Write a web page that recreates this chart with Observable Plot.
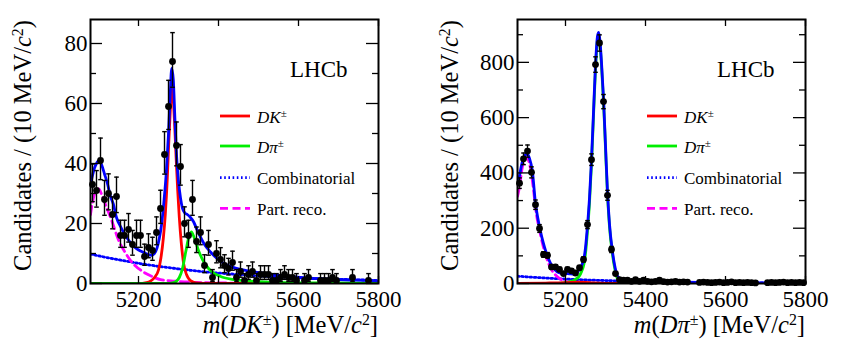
<!DOCTYPE html>
<html><head><meta charset="utf-8">
<script src="https://cdn.jsdelivr.net/npm/d3@7"></script>
<script src="https://cdn.jsdelivr.net/npm/@observablehq/plot@0.6"></script>
<style>
body{margin:0;background:#fff;}
#wrap{display:flex;width:854px;height:345px;overflow:hidden;}
.panel{position:relative;width:427px;height:345px;}
</style></head><body><div id="wrap"><div class="panel" id="p1"></div><div class="panel" id="p2"></div></div>
<script>
// ---------------- shared axis ticks ----------------
const xDomain = [5080, 5800];
const xMajor = [5200, 5400, 5600, 5800];

// ---------------- left panel: m(DK±) ----------------
const dkYMax = 88;
const dkYMajor = [0, 20, 40, 60, 80];
const dkYMinor = [10, 30, 50, 70];
const dkMass = [5085,5095,5105,5115,5125,5135,5145,5155,5165,5175,5185,5195,5205,5215,5225,5235,5245,5255,5265,5275,5285,5295,5305,5315,5325,5335,5345,5355,5365,5375,5385,5395,5405,5415,5425,5435,5445,5455,5465,5475,5485,5495,5505,5515,5525,5535,5545,5555,5565,5575,5585,5595,5615,5625,5655,5665,5675,5685,5695,5735,5775];
const dkCounts = [33,31,41,28,30,23,29,16,16,18,13,16,16,9,12,11,17,25,43,59,74,46,39,20,16,28,14,17,6,13,2,10,8,6,5,7,2,4,1,3,4,1,3,3,3,1,1,2,3,2,2,1,1,2,1,1,1,2,1,2,1];
const dkErrLo = [5.72,5.54,6.38,5.26,5.45,4.77,5.36,3.95,3.95,4.20,3.56,3.95,3.95,2.94,3.41,3.27,4.08,4.97,6.54,7.66,8.58,6.77,6.22,4.44,3.95,5.26,3.69,4.08,2.38,3.56,1.29,3.11,2.77,2.38,2.16,2.58,1.29,1.91,0.83,1.63,1.91,0.83,1.63,1.63,1.63,0.83,0.83,1.29,1.63,1.29,1.29,0.83,0.83,1.29,0.83,0.83,0.83,1.29,0.83,1.29,0.83];
const dkErrHi = [6.82,6.64,7.47,6.36,6.55,5.87,6.46,5.08,5.08,5.32,4.69,5.08,5.08,4.11,4.56,4.41,5.20,6.08,7.62,8.72,9.63,7.84,7.31,5.55,5.08,6.36,4.83,5.20,3.58,4.69,2.64,4.26,3.95,3.58,3.38,3.77,2.64,3.16,2.30,2.92,3.16,2.30,2.92,2.92,2.92,2.30,2.30,2.64,2.92,2.64,2.64,2.30,2.30,2.64,2.30,2.30,2.30,2.64,2.30,2.64,2.30];
// fit curves (sampled from the figure)
const dkTotalM = [5080,5085,5090,5095,5102,5108,5115,5122,5130,5137,5145,5155,5165,5175,5185,5195,5205,5215,5225,5233,5240,5246,5252,5258,5264,5270,5275,5279,5283,5287,5291,5295,5300,5305,5310,5316,5322,5330,5338,5346,5355,5365,5380,5395,5413,5437,5470,5520,5560,5605,5650,5700,5750,5800];
const dkTotalV = [33,36,38.5,40,41,39.5,36.5,33.5,29,26.5,22,19,16.5,14.5,12.8,11.6,10.8,10.2,9.6,9.4,10,11.7,15,20,28,38,50,62,71.7,68,55,43,34,28.5,25,23.5,23,22,20.5,18,15.5,13,10.5,8.5,6.7,5.4,4.3,3.3,2.6,2.0,1.6,1.3,1.1,0.9];
const dkSigM = [5080,5200,5220,5230,5240,5250,5256,5262,5267,5272,5276,5280,5283,5286,5290,5294,5298,5302,5307,5313,5320,5328,5336,5350,5380,5800];
const dkSigV = [0,0,0.3,0.8,2,4.5,8.5,15,23,35,48,59,65,63,54,42,31,22,13.5,6.5,3,1.2,0.5,0.1,0,0];
const dkMisM = [5080,5270,5285,5295,5302,5310,5318,5325,5332,5340,5350,5360,5375,5390,5410,5440,5480,5550,5650,5800];
const dkMisV = [0,0,0.2,0.8,2,5,10.5,15,17.2,15,11,8,5,3.3,2.1,1.3,0.8,0.4,0.2,0.1];
const dkCombM = [5080,5130,5180,5230,5280,5330,5380,5430,5480,5530,5580,5630,5680,5730,5800];
const dkCombV = [9.8,8.4,7.2,6.1,5.2,4.4,3.7,3.2,2.7,2.3,2.0,1.7,1.5,1.3,1.0];
const dkPartM = [5080,5085,5092,5100,5110,5117,5133,5150,5167,5183,5208,5233,5255,5290,5340,5400,5500,5800];
const dkPartV = [23,27,30.5,31.5,29,26.5,21,14.5,10.3,7.2,4.2,2.4,1.3,0.8,0.4,0.2,0.1,0];

// ---------------- right panel: m(Dπ±) ----------------
const dpiYMax = 955;
const dpiYMajor = [0, 200, 400, 600, 800];
const dpiYMinor = [100, 300, 500, 700, 900];
const dpiMass = [5085,5095,5105,5115,5125,5135,5145,5155,5165,5175,5185,5195,5205,5215,5225,5235,5245,5255,5265,5275,5285,5295,5305,5315,5325,5335,5345,5355,5365,5375,5385,5395,5405,5415,5425,5435,5445,5455,5465,5475,5485,5495,5505,5535,5545,5555,5565,5575,5585,5595,5605,5615,5625,5635,5645,5655,5665,5675,5705,5715,5725,5735,5745,5755,5765,5775,5785,5795];
const dpiCounts = [363,451,479,402,285,199,105,102,60,60,51,36,51,46,38,57,87,213,448,792,870,658,319,123,36,14,12,12,8,14,8,12,8,6,8,12,7,5,6,8,5,6,5,4,5,4,3,4,5,3,4,6,3,4,3,4,3,2,3,4,3,4,5,3,4,3,4,3];
const dpiErr = [19,21,22,20,17,14,10,10,7.7,7.7,7.1,6,7.1,6.8,6.2,7.5,9.3,14.6,21,28,29.5,25.7,17.9,11.1,6,3.7,3.5,3.5,2.8,3.7,2.8,3.5,2.8,2.4,2.8,3.5,2.6,2.2,2.4,2.8,2.2,2.4,2.2,2,2.2,2,1.7,2,2.2,1.7,2,2.4,1.7,2,1.7,2,1.7,1.4,1.7,2,1.7,2,2.2,1.7,2,1.7,2,1.7];
const dpiTotalM = [5080,5085,5092,5100,5105,5110,5117,5125,5131,5137,5144,5150,5156,5163,5170,5179,5190,5200,5210,5221,5228,5233,5240,5246,5250,5255,5260,5265,5270,5275,5280,5283,5286,5290,5295,5300,5305,5310,5317,5323,5329,5337,5346,5370,5400,5450,5500,5600,5700,5800];
const dpiTotalV = [355,390,440,466,468,452,409,289,235,192,150,120,95,72,56,42,37,36,35,34,38,48,65,90,130,210,310,448,620,790,895,908,880,800,670,500,330,215,120,65,30,17,12,9,7,5.5,4.5,3,2.2,1.5];
const dpiSigM = [5080,5180,5200,5215,5225,5235,5240,5246,5250,5255,5260,5265,5270,5275,5280,5283,5286,5290,5295,5300,5305,5310,5317,5323,5329,5337,5346,5370,5400,5500,5800];
const dpiSigV = [0,0.5,3,8,15,28,43,70,108,190,292,432,605,776,882,895,868,789,659,489,320,205,110,55,20,7.5,3,1,0.5,0.1,0];
const dpiMisM = [5080,5150,5200,5230,5250,5270,5300,5350,5800];
const dpiMisV = [0.5,1.5,3,5,4,2,0.5,0.1,0];
const dpiCombM = [5080,5130,5180,5230,5280,5330,5380,5430,5480,5530,5580,5630,5680,5730,5800];
const dpiCombV = [26.5,21.5,17.4,14.1,11.5,9.3,7.5,6.1,5,4,3.3,2.7,2.2,1.8,1.3];
const dpiPartM = [5080,5085,5092,5100,5105,5112,5120,5125,5137,5150,5162,5179,5200,5221,5250,5300,5400,5800];
const dpiPartV = [315,350,420,455,452,420,340,275,180,105,58,25,8,2,0.5,0.1,0,0];

const RED = "#ff0000", GREEN = "#00ee00", BLUE = "#0000ff", MAGENTA = "#ff00ff";
const DOTS = "1.6,2.6", DASHES = "8,4.5";

const legendItems = [
  {color:RED, dash:null, parts:[{t:"DK",i:true},{t:"±",sup:true}]},
  {color:GREEN, dash:null, parts:[{t:"D\u03C0",i:true},{t:"±",sup:true}]},
  {color:BLUE, dash:DOTS, parts:[{t:"Combinatorial"}]},
  {color:MAGENTA, dash:DASHES, parts:[{t:"Part. reco."}]}
];

const SERIF = "'Liberation Serif','Times New Roman',Times,'DejaVu Serif',serif";

function addRich(sel, parts){
  parts.forEach(p=>{
    const ts = sel.append("tspan").text(p.t);
    if(p.i) ts.attr("font-style","italic");
    if(p.sup) ts.attr("font-size","65%").attr("baseline-shift","super");
  });
  return sel;
}

function drawPanel(el, cfg){
  const W=427,H=345,ML=90,MR=49,MT=19,MB=62;
  const FW=W-ML-MR, FH=H-MT-MB;
  const pts = cfg.mass.map((m,i)=>({m, n:cfg.counts[i], lo:cfg.errLo[i], hi:cfg.errHi[i]}));
  const ln = (M,V)=>M.map((m,i)=>({m, v:V[i]}));
  const capSym = {draw(ctx,size){const r=Math.sqrt(size/Math.PI); ctx.moveTo(-r,0); ctx.lineTo(r,0);}};
  const lw = 2.8;
  const plot = Plot.plot({
    width:W, height:H, marginLeft:ML, marginRight:MR, marginTop:MT, marginBottom:MB,
    x:{domain:xDomain}, y:{domain:[0,cfg.ymax]},
    style:{fontFamily:SERIF, fontSize:"23px", background:"white", color:"black", overflow:"visible"},
    marks:[
      Plot.line(ln(cfg.combM,cfg.combV), {x:"m",y:"v",stroke:BLUE,strokeWidth:lw,strokeDasharray:DOTS,curve:"monotone-x",clip:true}),
      Plot.line(ln(cfg.partM,cfg.partV), {x:"m",y:"v",stroke:MAGENTA,strokeWidth:lw,strokeDasharray:DASHES,curve:"monotone-x",clip:true}),
      Plot.line(ln(cfg.firstM,cfg.firstV), {x:"m",y:"v",stroke:cfg.firstColor,strokeWidth:lw,curve:"monotone-x",clip:true}),
      Plot.line(ln(cfg.secondM,cfg.secondV), {x:"m",y:"v",stroke:cfg.secondColor,strokeWidth:lw,curve:"monotone-x",clip:true}),
      Plot.line(ln(cfg.totM,cfg.totV), {x:"m",y:"v",stroke:BLUE,strokeWidth:lw,curve:"monotone-x",clip:true}),
      Plot.ruleX(pts, {x:"m", y1:d=>d.n-d.lo, y2:d=>d.n+d.hi, stroke:"black", strokeWidth:1.4}),
      Plot.dot(pts, {x:"m", y:d=>d.n+d.hi, symbol:capSym, r:2.3, stroke:"black", fill:"none", strokeWidth:1.4}),
      Plot.dot(pts, {x:"m", y:d=>d.n-d.lo, symbol:capSym, r:2.3, stroke:"black", fill:"none", strokeWidth:1.4}),
      Plot.dot(pts, {x:"m", y:"n", r:3.4, fill:"black", stroke:"none"}),
      // inward ticks, ROOT style
      Plot.ruleY(cfg.yMajor, {insetRight:FW-12, stroke:"black", strokeWidth:1.3}),
      Plot.ruleY(cfg.yMinor, {insetRight:FW-6, stroke:"black", strokeWidth:1.3}),
      Plot.ruleY(cfg.yMajor, {insetLeft:FW-12, stroke:"black", strokeWidth:1.3}),
      Plot.ruleY(cfg.yMinor, {insetLeft:FW-6, stroke:"black", strokeWidth:1.3}),
      Plot.ruleX(xMajor, {insetTop:FH-7, stroke:"black", strokeWidth:1.3}),
      Plot.ruleX(xMajor, {insetBottom:FH-7, stroke:"black", strokeWidth:1.3}),
      Plot.frame({stroke:"black", strokeWidth:2}),
      Plot.axisY(cfg.yMajor, {tickSize:0, tickPadding:3, label:null, fontSize:23, tickFormat:d=>String(d)}),
      Plot.axisX(xMajor, {tickSize:0, tickPadding:7, label:null, fontSize:23, tickFormat:d=>String(d)})
    ]
  });
  el.appendChild(plot);
  const svg = d3.select(plot);
  const g = svg.append("g").attr("font-family",SERIF).attr("fill","black").attr("text-anchor","start");
  // y title
  addRich(g.append("text").attr("transform",`translate(31,20) rotate(-90)`).attr("text-anchor","end").attr("font-size",24.5),
    [{t:"Candidates / (10 MeV/"},{t:"c",i:true},{t:"2",sup:true},{t:")"}]);
  // x title
  addRich(g.append("text").attr("x",ML+FW).attr("y",333).attr("text-anchor","end").attr("font-size",24.5), cfg.xTitle);
  // LHCb
  g.append("text").attr("x",290).attr("y",77).attr("text-anchor","start").attr("font-size",23).text("LHCb");
  // legend
  const rowY = [116,146,177.7,208.3];
  legendItems.forEach((it,i)=>{
    const l = g.append("line").attr("x1",220).attr("x2",250).attr("y1",rowY[i]).attr("y2",rowY[i])
      .attr("stroke",it.color).attr("stroke-width",lw);
    if(it.dash) l.attr("stroke-dasharray",it.dash);
    addRich(g.append("text").attr("x",257).attr("y",rowY[i]+6.5).attr("text-anchor","start").attr("font-size",17), it.parts);
  });
}

// left: DK signal (red) drawn first, Dπ misID (green) on top
drawPanel(document.getElementById("p1"), {
  ymax:dkYMax, yMajor:dkYMajor, yMinor:dkYMinor,
  mass:dkMass, counts:dkCounts, errLo:dkErrLo, errHi:dkErrHi,
  totM:dkTotalM, totV:dkTotalV,
  firstM:dkSigM, firstV:dkSigV, firstColor:RED,
  secondM:dkMisM, secondV:dkMisV, secondColor:GREEN,
  combM:dkCombM, combV:dkCombV, partM:dkPartM, partV:dkPartV,
  xTitle:[{t:"m",i:true},{t:"("},{t:"DK",i:true},{t:"±",sup:true},{t:") [MeV/"},{t:"c",i:true},{t:"2",sup:true},{t:"]"}]
});
// right: Dπ signal (green) drawn first, DK misID (red) on top
drawPanel(document.getElementById("p2"), {
  ymax:dpiYMax, yMajor:dpiYMajor, yMinor:dpiYMinor,
  mass:dpiMass, counts:dpiCounts, errLo:dpiErr, errHi:dpiErr,
  totM:dpiTotalM, totV:dpiTotalV,
  firstM:dpiSigM, firstV:dpiSigV, firstColor:GREEN,
  secondM:dpiMisM, secondV:dpiMisV, secondColor:RED,
  combM:dpiCombM, combV:dpiCombV, partM:dpiPartM, partV:dpiPartV,
  xTitle:[{t:"m",i:true},{t:"("},{t:"D\u03C0",i:true},{t:"±",sup:true},{t:") [MeV/"},{t:"c",i:true},{t:"2",sup:true},{t:"]"}]
});
</script></body></html>
